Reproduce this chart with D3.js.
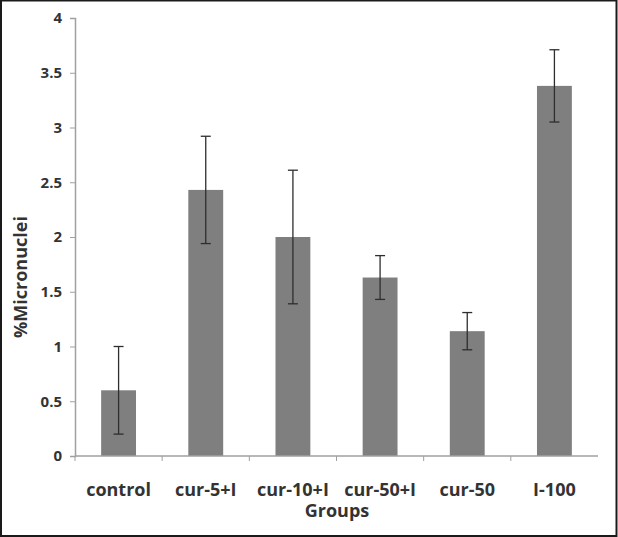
<!DOCTYPE html>
<html>
<head>
<meta charset="utf-8">
<script src="https://cdn.jsdelivr.net/npm/d3@7"></script>
<style>
  body { margin: 0; background: #fff; }
  text { font-family: "Open Sans", Lato, sans-serif; font-weight: bold; fill: #333; }
</style>
</head>
<body>
<svg id="canvas"></svg>
<script>
const groups = ['control', 'cur-5+I', 'cur-10+I', 'cur-50+I', 'cur-50', 'I-100']
const means = [0.6, 2.43, 2.0, 1.63, 1.14, 3.38]
const errors = [0.4, 0.49, 0.61, 0.2, 0.17, 0.33]
const yTicks = [0, 0.5, 1, 1.5, 2, 2.5, 3, 3.5, 4]

const width = 618
const height = 537
const margin = {left: 75, right: 20, top: 18, bottom: 81}

let canvas = d3.select('#canvas')
    .attr('width', width)
    .attr('height', height)

// frame round the picture
canvas.append('rect')
    .attr('x', 1).attr('y', 0.5)
    .attr('width', width - 2.5).attr('height', height - 1.5)
    .attr('fill', '#fff')
    .attr('stroke', '#1a1a1a')
    .attr('stroke-width', 2)

let xScale = d3.scaleBand()
    .domain(groups)
    .range([margin.left, width - margin.right])
    .paddingInner(0.6)
    .paddingOuter(0.3)

let yScale = d3.scaleLinear()
    .domain([0, 4])
    .range([height - margin.bottom, margin.top])

let step = xScale.step()
let x0 = margin.left

// bars
canvas.selectAll('.bar')
    .data(groups)
    .enter()
    .append('rect')
    .attr('class', 'bar')
    .attr('x', d => xScale(d))
    .attr('width', xScale.bandwidth())
    .attr('y', (d, i) => yScale(means[i]))
    .attr('height', (d, i) => yScale(0) - yScale(means[i]))
    .attr('fill', '#7f7f80')

// y axis
let yAxis = d3.axisLeft(yScale)
    .tickValues(yTicks)
    .tickFormat(d => d)
    .tickSize(5)
    .tickPadding(8)

let yG = canvas.append('g')
    .attr('transform', 'translate(' + margin.left + ',0)')
    .call(yAxis)
yG.select('.domain').attr('stroke', '#a0a0a0').attr('stroke-width', 1.5)
yG.selectAll('.tick line').attr('stroke', '#a0a0a0')
yG.selectAll('.tick text')
    .style('font-family', '"Open Sans", sans-serif')
    .style('font-weight', 'bold')
    .style('font-size', '15px')
    .attr('fill', '#333')

// x axis line and ticks at band boundaries
canvas.append('line')
    .attr('x1', margin.left).attr('x2', width - margin.right)
    .attr('y1', yScale(0)).attr('y2', yScale(0))
    .attr('stroke', '#a0a0a0').attr('stroke-width', 1.5)

canvas.selectAll('.xtick')
    .data(d3.range(groups.length))
    .enter()
    .append('line')
    .attr('class', 'xtick')
    .attr('x1', i => x0 + i * step).attr('x2', i => x0 + i * step)
    .attr('y1', yScale(0)).attr('y2', yScale(0) + 5)
    .attr('stroke', '#a0a0a0')

canvas.selectAll('.xlabel')
    .data(groups)
    .enter()
    .append('text')
    .attr('class', 'xlabel')
    .attr('x', d => xScale(d) + xScale.bandwidth() / 2)
    .attr('y', 496)
    .attr('text-anchor', 'middle')
    .style('font-size', '18px')
    .text(d => d)

// error bars
let cap = 5
let errG = canvas.selectAll('.err')
    .data(groups)
    .enter()
    .append('g')
    .attr('class', 'err')
    .attr('stroke', '#2e2e2e')
    .attr('stroke-width', 1.3)

errG.append('line')
    .attr('x1', d => xScale(d) + xScale.bandwidth() / 2)
    .attr('x2', d => xScale(d) + xScale.bandwidth() / 2)
    .attr('y1', (d, i) => yScale(means[i] + errors[i]))
    .attr('y2', (d, i) => yScale(means[i] - errors[i]))
errG.append('line')
    .attr('x1', d => xScale(d) + xScale.bandwidth() / 2 - cap)
    .attr('x2', d => xScale(d) + xScale.bandwidth() / 2 + cap)
    .attr('y1', (d, i) => yScale(means[i] + errors[i]))
    .attr('y2', (d, i) => yScale(means[i] + errors[i]))
errG.append('line')
    .attr('x1', d => xScale(d) + xScale.bandwidth() / 2 - cap)
    .attr('x2', d => xScale(d) + xScale.bandwidth() / 2 + cap)
    .attr('y1', (d, i) => yScale(means[i] - errors[i]))
    .attr('y2', (d, i) => yScale(means[i] - errors[i]))

// axis titles
canvas.append('text')
    .attr('x', 337)
    .attr('y', 517)
    .attr('text-anchor', 'middle')
    .style('font-size', '18px')
    .text('Groups')

canvas.append('text')
    .attr('transform', 'translate(27,' + 277 + ') rotate(-90)')
    .attr('text-anchor', 'middle')
    .style('font-size', '18px')
    .text('%Micronuclei')
</script>
</body>
</html>
